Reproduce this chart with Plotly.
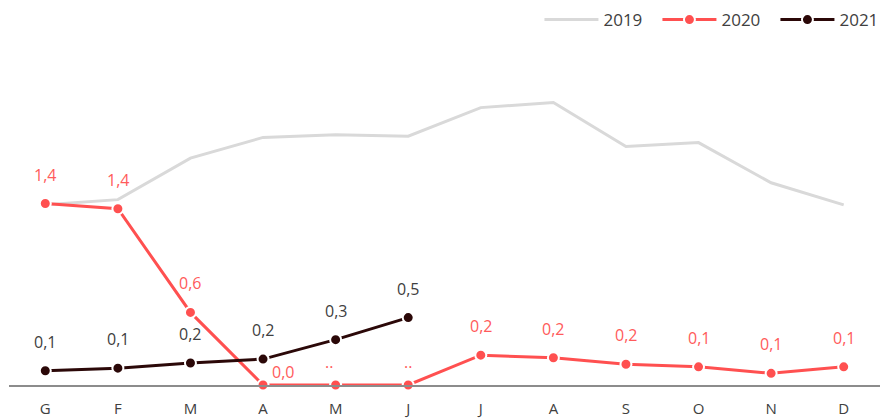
import plotly.graph_objects as go

mesi = ["G", "F", "M", "A", "M", "J", "J", "A", "S", "O", "N", "D"]

v2019 = [1.39, 1.43, 1.75, 1.91, 1.93, 1.92, 2.14, 2.18, 1.84, 1.87, 1.56, 1.39]
v2020 = [1.40, 1.36, 0.56, 0.00, 0.00, 0.00, 0.23, 0.21, 0.16, 0.14, 0.09, 0.14]
v2021 = [0.11, 0.13, 0.17, 0.20, 0.35, 0.52]

# ".." = dato non significativo (mag/giu 2020)
nd2020 = [False, False, False, False, True, True, False, False, False, False, False, False]

C19 = "#D9D9D9"
C20 = "#FF5050"
C21 = "#2B0808"
TXT = "#404040"
FONT = "Open Sans, sans-serif"


def etichetta(v):
    return f"{v:.1f}".replace(".", ",")


x = list(range(len(mesi)))
fig = go.Figure()

fig.add_trace(go.Scatter(
    x=x, y=v2019, name="2019", mode="lines",
    line=dict(color=C19, width=3),
))
fig.add_trace(go.Scatter(
    x=x, y=v2020, name="2020", mode="lines+markers",
    line=dict(color=C20, width=3),
    marker=dict(size=11, color=C20, line=dict(color="white", width=2)),
    cliponaxis=False,
))
fig.add_trace(go.Scatter(
    x=x[:len(v2021)], y=v2021, name="2021", mode="lines+markers",
    line=dict(color=C21, width=3),
    marker=dict(size=11, color=C21, line=dict(color="white", width=2)),
    cliponaxis=False,
))

# etichette dati (spostamenti in px)
spost = {3: (20, 13), 4: (-7, 23), 5: (0, 23)}
for i, v in enumerate(v2020):
    dx, dy = spost.get(i, (0, 29))
    fig.add_annotation(
        x=i, y=v, text=".." if nd2020[i] else etichetta(v),
        showarrow=False, xshift=dx, yshift=dy,
        font=dict(family=FONT, size=16, color="#FF5B5B"),
    )
for i, v in enumerate(v2021):
    fig.add_annotation(
        x=i, y=v, text=etichetta(v),
        showarrow=False, yshift=29,
        font=dict(family=FONT, size=16, color=TXT),
    )

fig.update_layout(
    width=880, height=419,
    margin=dict(l=9, r=0, t=48, b=34, autoexpand=False),
    plot_bgcolor="white", paper_bgcolor="white",
    font=dict(family=FONT, size=16, color=TXT),
    showlegend=True,
    legend=dict(orientation="h", x=0.609, xanchor="left", y=1.083, yanchor="middle",
                font=dict(size=17, color=TXT), itemwidth=54, entrywidth=49),
)
fig.update_xaxes(
    range=[-0.5, 11.5], tickvals=x, ticktext=mesi,
    showgrid=False, zeroline=False, automargin=False,
    showline=True, linecolor="#8C8C8C", linewidth=2,
    ticks="outside", ticklen=9, tickcolor="rgba(0,0,0,0)",
    tickfont=dict(size=15, color=TXT),
)
fig.update_yaxes(range=[0, 2.6], visible=False)

fig.write_html("out.html", config={"displayModeBar": False},
               post_script="document.body.style.margin='0';")
